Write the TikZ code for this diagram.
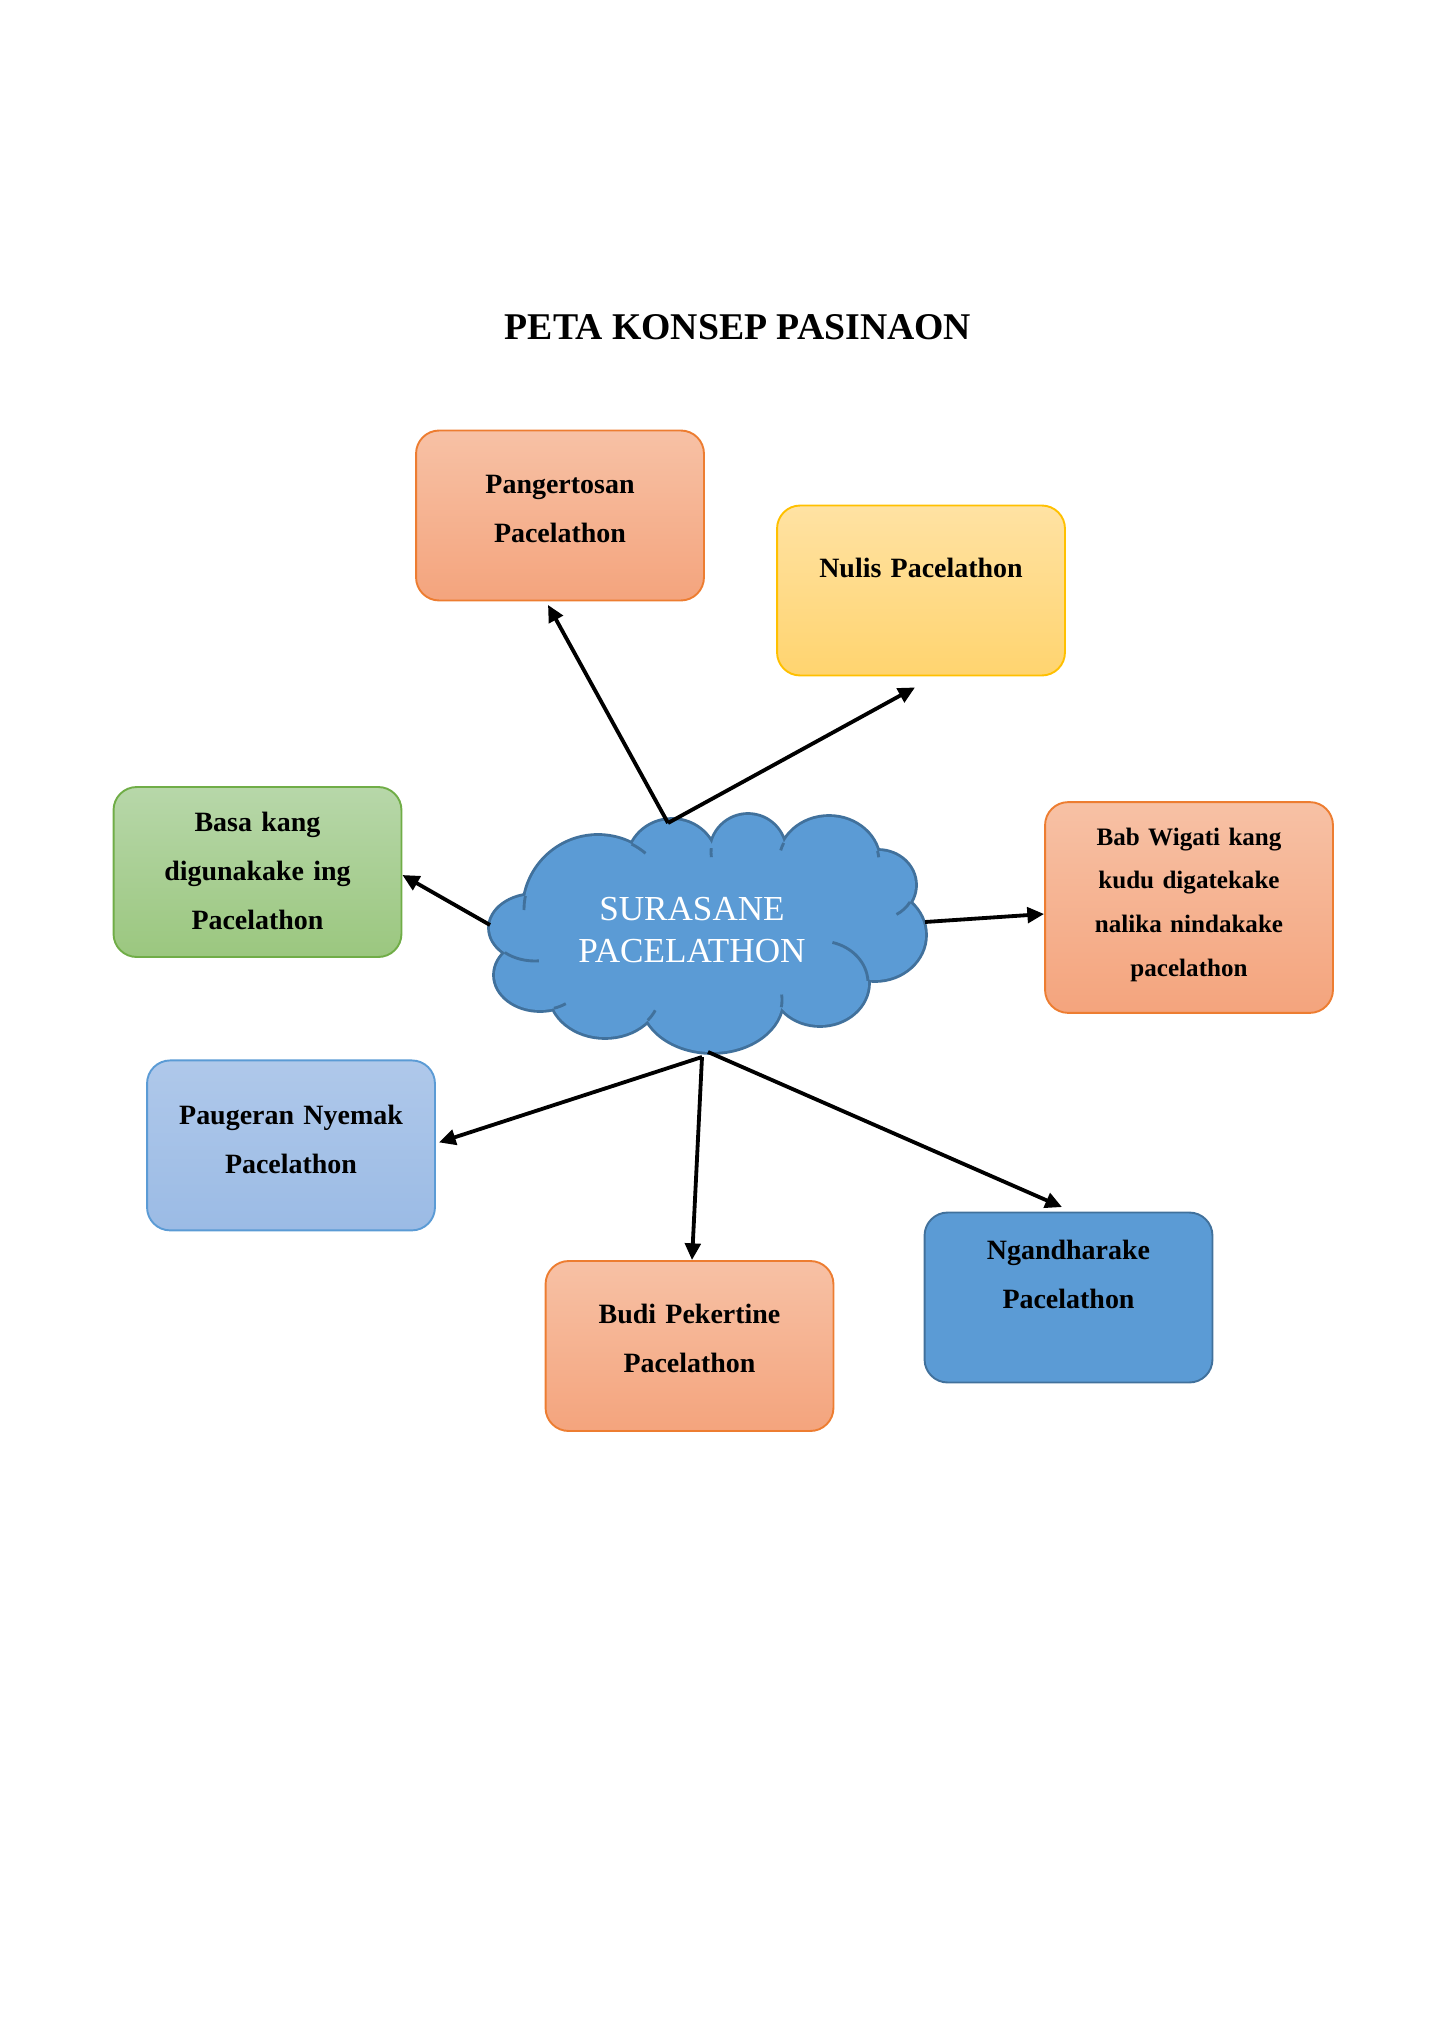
\documentclass[tikz,border=0pt]{standalone}
\usepackage{fontspec}
\setmainfont{Liberation Serif}
\usepackage{tikz}
\usetikzlibrary{arrows.meta,positioning,calc}
\definecolor{oranyepinggir}{HTML}{ED7D31}
\definecolor{oranyeatas}{HTML}{F7C1A5}
\definecolor{oranyengisor}{HTML}{F4A47D}
\definecolor{kuningpinggir}{HTML}{FFC000}
\definecolor{kuningatas}{HTML}{FFE2A3}
\definecolor{kuningngisor}{HTML}{FFD46F}
\definecolor{ijopinggir}{HTML}{70AD47}
\definecolor{ijoatas}{HTML}{B7D7A9}
\definecolor{ijongisor}{HTML}{9BC77F}
\definecolor{birupinggir}{HTML}{5B9BD5}
\definecolor{biruatas}{HTML}{AFC8EA}
\definecolor{birungisor}{HTML}{9BBBE5}
\definecolor{awan}{HTML}{5B9BD5}
\definecolor{awanpinggir}{HTML}{41719C}
\tikzstyle{kotak} = [rectangle, rounded corners=0.34cm, minimum width=4.235cm, minimum height=2.5cm, text width=4cm, align=center, line width=0.8pt, text height=0pt, font=\fontsize{11.7}{20.4}\selectfont\bfseries]
\tikzstyle{oranye} = [kotak, draw=oranyepinggir, top color=oranyeatas, bottom color=oranyengisor]
\tikzstyle{kuning} = [kotak, draw=kuningpinggir, top color=kuningatas, bottom color=kuningngisor]
\tikzstyle{ijo} = [kotak, draw=ijopinggir, top color=ijoatas, bottom color=ijongisor]
\tikzstyle{biru} = [kotak, draw=birupinggir, top color=biruatas, bottom color=birungisor]
\tikzstyle{birutuwa} = [kotak, draw=awanpinggir, fill=awan]
\tikzstyle{garisawan} = [draw=awanpinggir, line width=1.2pt]
\tikzstyle{panah} = [-{Triangle[length=7pt,width=6.5pt]}, line width=1.6pt]

\begin{document}
\begin{tikzpicture}[x=0.0147059cm,y=-0.0147059cm]
\useasboundingbox (0,0) rectangle (1428,2028);
\node[font=\fontsize{15.8}{18}\selectfont\bfseries] (judul) at (738,327) {PETA KONSEP PASINAON};
\path[fill=awan, preaction={draw=awanpinggir, line width=2.4pt}]
  (535,928) ellipse[x radius=45, y radius=33]
  (598,910) circle[radius=74]
  (672,862) ellipse[x radius=44, y radius=42]
  (748,852) circle[radius=37]
  (829,862) ellipse[x radius=50, y radius=45]
  (878,885) ellipse[x radius=37, y radius=34]
  (875,935) ellipse[x radius=50, y radius=45]
  (820,983) ellipse[x radius=48, y radius=42]
  (712,1000) ellipse[x radius=70, y radius=52]
  (605,992) ellipse[x radius=55, y radius=45]
  (540,975) ellipse[x radius=45, y radius=35]
  (705,935) ellipse[x radius=180, y radius=80];
\draw[garisawan] (598,910) ++(191:74 and 74) arc[start angle=191, delta angle=-11, x radius=74, y radius=74];
\draw[garisawan] (535,928) ++(132:45 and 33) arc[start angle=132, delta angle=-47, x radius=45, y radius=33];
\draw[garisawan] (540,975) ++(72:45 and 35) arc[start angle=72, delta angle=-17, x radius=45, y radius=35];
\draw[garisawan] (605,992) ++(39:55 and 45) arc[start angle=39, delta angle=-15, x radius=55, y radius=45];
\draw[garisawan] (712,1000) ++(8:70 and 52) arc[start angle=8, delta angle=-14, x radius=70, y radius=52];
\draw[garisawan] (820,983) ++(-3:48 and 42) arc[start angle=-3, delta angle=-72, x radius=48, y radius=42];
\draw[garisawan] (878,885) ++(30:37 and 34) arc[start angle=30, delta angle=30, x radius=37, y radius=34];
\draw[garisawan] (829,862) ++(-14:50 and 45) arc[start angle=-14, delta angle=8, x radius=50, y radius=45];
\draw[garisawan] (829,862) ++(205:50 and 45) arc[start angle=205, delta angle=-10, x radius=50, y radius=45];
\draw[garisawan] (748,852) ++(186:37 and 37) arc[start angle=186, delta angle=-14, x radius=37, y radius=37];
\draw[garisawan] (598,910) ++(-63:74 and 74) arc[start angle=-63, delta angle=13, x radius=74, y radius=74];
\node[text=white, align=center, font=\fontsize{14.7}{17.5}\selectfont] (surasane) at (692,930) {SURASANE\\PACELATHON};
\coordinate (awanndhuwur) at (668,823);
\coordinate (awankiwa) at (490,925);
\coordinate (awantengen) at (925,922);
\coordinate (awanngisor) at (702,1057);
\coordinate (awanngisorb) at (708,1052);
\node[oranye, text depth=18pt] (pangertosan) at (560,515.5) {Pangertosan\\Pacelathon};
\node[kuning, text depth=11.3pt] (nulis) at (921,590.5) {Nulis Pacelathon};
\node[ijo, text depth=33.5pt] (basa) at (257.5,872) {Basa kang\\digunakake ing\\Pacelathon};
\node[oranye, minimum height=3.1cm, text depth=52.3pt, font=\fontsize{10.5}{18.4}\selectfont\bfseries] (wigati) at (1189,907.5) {Bab Wigati kang\\kudu digatekake\\nalika nindakake\\pacelathon};
\node[biru, text depth=17.5pt] (paugeran) at (291,1145.4) {Paugeran Nyemak\\Pacelathon};
\node[oranye, text depth=18.8pt] (budi) at (689.5,1346) {Budi Pekertine\\Pacelathon};
\node[birutuwa, text depth=31.4pt] (ngandharake) at (1068.5,1297.5) {Ngandharake\\Pacelathon};
\draw[panah] (awanndhuwur) -- ($(pangertosan.south)+(-12,3.5)$);
\draw[panah] (awanndhuwur) -- ($(nulis.south)+(-6,11)$);
\draw[panah] (awankiwa) -- ($(basa.east)+(0,3)$);
\draw[panah] (awantengen) -- ($(wigati.west)+(0,6.5)$);
\draw[panah] (awanngisor) -- ($(paugeran.east)+(3,-3)$);
\draw[panah] (awanngisor) -- ($(budi.north)+(2.5,0)$);
\draw[panah] (awanngisorb) -- ($(ngandharake.north)+(-6.5,-4.5)$);
\end{tikzpicture}
\end{document}
